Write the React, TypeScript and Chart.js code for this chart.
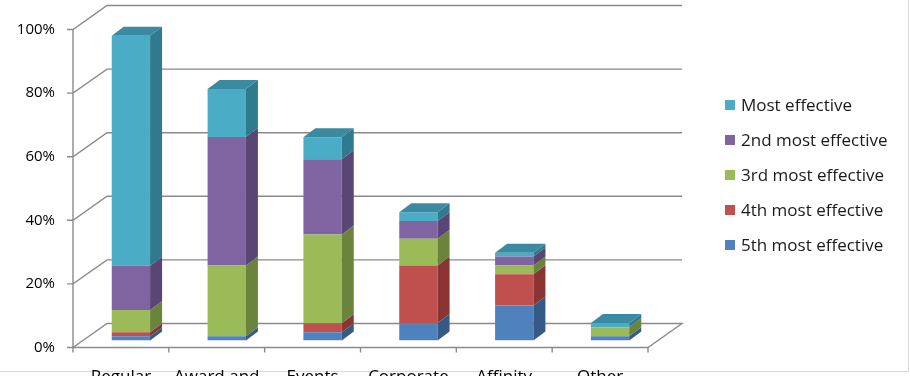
import React, { useEffect, useRef } from "react";
import { Chart, registerables } from "chart.js";

Chart.register(...registerables);

const categories = ["Regular", "Award and", "Events", "Corporate", "Affinity", "Other"];
const seriesNames = ["5th most effective", "4th most effective", "3rd most effective", "2nd most effective", "Most effective"];
const fifthMost = [1.3, 1.3, 2.6, 5.5, 11.0, 1.3];
const fourthMost = [1.3, 0, 2.8, 18.1, 9.8, 0];
const thirdMost = [7.0, 22.3, 27.9, 8.4, 2.8, 2.9];
const secondMost = [13.9, 40.4, 23.7, 5.6, 2.8, 0];
const mostEffective = [72.3, 15.1, 6.9, 2.7, 1.2, 1.3];
const seriesValues = [fifthMost, fourthMost, thirdMost, secondMost, mostEffective];
const frontColors = ["#4F81BD", "#C0504D", "#9BBB59", "#8064A2", "#4BACC6"];
const sideColors = ["#365A87", "#8A3533", "#6A833D", "#594576", "#2F7A8E"];
const topColors = ["#4572A8", "#A94543", "#86A44C", "#6F578F", "#3A8BA1"];

const FLOOR_DX = 34;
const FLOOR_DY = 24;
const BAR_DX = 10;
const BAR_DY = 7;
const DEPTH_DX = 12;
const DEPTH_DY = 9;
const FONT = '"Open Sans", "DejaVu Sans", sans-serif';

const threeD = {
  id: "threeD",
  beforeDraw(chart: any) {
    const ctx = chart.ctx;
    ctx.save();
    ctx.fillStyle = "#ffffff";
    ctx.fillRect(0, 0, chart.width, chart.height);
    ctx.strokeStyle = "#d9d9d9";
    ctx.lineWidth = 1;
    ctx.beginPath();
    ctx.moveTo(0, 371.5);
    ctx.lineTo(908.5, 371.5);
    ctx.moveTo(908.5, 0);
    ctx.lineTo(908.5, 371.5);
    ctx.stroke();
    ctx.restore();
  },
  beforeDatasetsDraw(chart: any) {
    const { ctx, chartArea: a, scales } = chart;
    const ys = scales.y;
    ctx.save();
    ctx.strokeStyle = "#8a8a8a";
    ctx.lineWidth = 1.4;
    ctx.beginPath();
    ys.ticks.forEach((t: any) => {
      const py = ys.getPixelForValue(t.value);
      ctx.moveTo(a.left - 6, py);
      ctx.lineTo(a.left, py);
      if (t.value === 0) {
        ctx.lineTo(a.right, py);
        ctx.lineTo(a.right + FLOOR_DX, py - FLOOR_DY);
        ctx.lineTo(a.left + FLOOR_DX, py - FLOOR_DY);
        ctx.lineTo(a.left, py);
      } else {
        ctx.lineTo(a.left + FLOOR_DX, py - FLOOR_DY);
        ctx.lineTo(a.right + FLOOR_DX, py - FLOOR_DY);
      }
    });
    ctx.moveTo(a.left, a.top);
    ctx.lineTo(a.left, a.bottom);
    const n = categories.length;
    for (let i = 0; i <= n; i++) {
      const px = a.left + ((a.right - a.left) * i) / n;
      ctx.moveTo(px, a.bottom);
      ctx.lineTo(px, a.bottom + 5);
    }
    ctx.stroke();
    ctx.restore();
    ctx.save();
    ctx.translate(BAR_DX, -BAR_DY);
  },
  afterDatasetsDraw(chart: any) {
    const ctx = chart.ctx;
    const metas = chart.getSortedVisibleDatasetMetas();
    for (let i = 0; i < categories.length; i++) {
      let topIdx = -1;
      metas.forEach((m: any, k: number) => {
        const p = m.data[i].getProps(["y", "base"], true);
        if (Math.abs(p.base - p.y) > 0.5) topIdx = k;
      });
      metas.forEach((m: any, k: number) => {
        const { x, y, base, width } = m.data[i].getProps(["x", "y", "base", "width"], true);
        if (Math.abs(base - y) <= 0.5) return;
        const ds = chart.data.datasets[m.index];
        const l = x - width / 2;
        const r = x + width / 2;
        ctx.fillStyle = ds.sideColor;
        ctx.beginPath();
        ctx.moveTo(r, base);
        ctx.lineTo(r, y);
        ctx.lineTo(r + DEPTH_DX, y - DEPTH_DY);
        ctx.lineTo(r + DEPTH_DX, base - DEPTH_DY);
        ctx.closePath();
        ctx.fill();
        if (k === topIdx) {
          ctx.fillStyle = ds.topColor;
          ctx.beginPath();
          ctx.moveTo(l, y);
          ctx.lineTo(l + DEPTH_DX, y - DEPTH_DY);
          ctx.lineTo(r + DEPTH_DX, y - DEPTH_DY);
          ctx.lineTo(r, y);
          ctx.closePath();
          ctx.fill();
        }
      });
    }
    ctx.restore();
  },
  afterDraw(chart: any) {
    const ctx = chart.ctx;
    const items = chart.data.datasets.slice().reverse();
    ctx.save();
    ctx.font = "17px " + FONT;
    ctx.textBaseline = "middle";
    ctx.textAlign = "left";
    items.forEach((ds: any, i: number) => {
      const cy = 105 + i * 35;
      ctx.fillStyle = ds.backgroundColor;
      ctx.fillRect(725, cy - 5, 10, 10);
      ctx.fillStyle = "#1a1a1a";
      ctx.fillText(ds.label, 741, cy + 1);
    });
    ctx.restore();
  },
};

export default function App() {
  const ref = useRef<HTMLCanvasElement>(null);
  useEffect(() => {
    document.body.style.margin = "0";
    const chart = new Chart(ref.current as HTMLCanvasElement, {
      type: "bar",
      data: {
        labels: categories,
        datasets: seriesNames.map((name, k) => ({
          label: name,
          data: seriesValues[k],
          backgroundColor: frontColors[k],
          sideColor: sideColors[k],
          topColor: topColors[k],
          borderWidth: 0,
          categoryPercentage: 1,
          barPercentage: 0.4,
        })) as any,
      },
      options: {
        animation: false,
        responsive: false,
        maintainAspectRatio: false,
        layout: { padding: { left: 0, top: 29.5, right: 262, bottom: 0 } },
        plugins: { legend: { display: false }, tooltip: { enabled: false } },
        scales: {
          x: {
            stacked: true,
            grid: { display: false, drawTicks: false, tickLength: 0 },
            border: { display: false },
            ticks: { font: { family: FONT, size: 17 }, color: "#000", padding: 19, maxRotation: 0, autoSkip: false },
            afterFit: (s: any) => { s.height = 28.5; },
          },
          y: {
            stacked: true,
            min: 0,
            max: 100,
            grid: { display: false, drawTicks: false, tickLength: 0 },
            border: { display: false },
            ticks: { stepSize: 20, font: { family: FONT, size: 15 }, color: "#000", padding: 18, callback: (v: any) => v + "%" },
            afterFit: (s: any) => { s.width = 73; },
          },
        },
      },
      plugins: [threeD],
    });
    return () => chart.destroy();
  }, []);
  return (
    <div style={{ width: 910, height: 376, background: "#fff" }}>
      <canvas ref={ref} width={910} height={376} style={{ display: "block" }} />
    </div>
  );
}
